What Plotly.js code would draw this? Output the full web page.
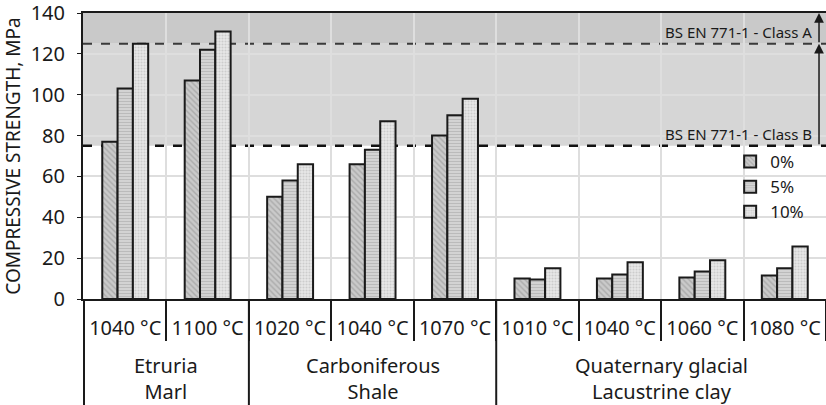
<!DOCTYPE html>
<html>
<head>
<meta charset="utf-8">
<script src="https://cdn.plot.ly/plotly-3.0.1.min.js"></script>
<style>html,body{margin:0;padding:0;background:#fff;}#chart{width:826px;height:405px;}</style>
</head>
<body>
<div id="chart"></div>
<script>
// Data
const materials = ["Etruria<br>Marl","Carboniferous<br>Shale","Quaternary glacial<br>Lacustrine clay"];
const materialOfBar = [0,0,1,1,1,2,2,2,2];
const temperatures = ["1040 °C","1100 °C","1020 °C","1040 °C","1070 °C","1010 °C","1040 °C","1060 °C","1080 °C"];
const seriesNames = ["0%","5%","10%"];
const strength0 = [77,107,50,66,80,10,10,10.5,11.5];
const strength5 = [103,122,58,73,90,9.5,12,13.5,15];
const strength10 = [125,131,66,87,98,15,18,19,25.7];
const classA = 125;
const classB = 75;
const yMax = 140;

// unique category keys (material index + temperature); tick text shows the temperature
const cats = temperatures.map((t,i)=> materialOfBar[i] + "|" + t);

const F = "'Noto Sans', sans-serif";
const styles = [
  {bg:"#cacaca", fg:"#8a8a8a", shape:"\\", size:4, sol:0.35},
  {bg:"#dcdcdc", fg:"#9a9a9a", shape:"-", size:3, sol:0.5},
  {bg:"#e8e8e8", fg:"#b0b0b0", shape:".", size:3, sol:0.4}
];
const vals = [strength0, strength5, strength10];
const traces = vals.map((v,i)=>({
  type:"bar",
  name: seriesNames[i],
  x: cats,
  y: v,
  marker:{
    color: styles[i].bg,
    line:{color:"#1a1a1a", width:2},
    pattern:{shape:styles[i].shape, fgcolor:styles[i].fg, bgcolor:styles[i].bg, size:styles[i].size, solidity:styles[i].sol, fillmode:"overlay"}
  },
  hoverinfo:"none"
}));

// group label positions (mean category index) and group boundaries
const groupCenters = materials.map((m,g)=>{
  const idx = materialOfBar.map((mm,i)=>mm===g?i:null).filter(v=>v!==null);
  return idx.reduce((a,b)=>a+b,0)/idx.length;
});
const groupStarts = materials.map((m,g)=> materialOfBar.indexOf(g) - 0.5);

const shapes = [
  {type:"rect", xref:"paper", yref:"y", x0:0, x1:1, y0:classA, y1:yMax, fillcolor:"#c9c9c9", line:{width:0}, layer:"below"},
  {type:"rect", xref:"paper", yref:"y", x0:0, x1:1, y0:classB, y1:classA, fillcolor:"#d6d6d6", line:{width:0}, layer:"below"},
  {type:"line", xref:"paper", yref:"y", x0:0, x1:1, y0:classA, y1:classA, line:{color:"#3a3a3a", width:2, dash:"dash"}, layer:"between"},
  {type:"line", xref:"paper", yref:"y", x0:0, x1:1, y0:classB, y1:classB, line:{color:"#111", width:2.5, dash:"dash"}, layer:"between"}
];
groupStarts.forEach(xs=>{
  shapes.push({type:"line", xref:"x", yref:"paper", x0:xs, x1:xs, y0:0, y1:-0.375, line:{color:"#1a1a1a", width:2}, layer:"above"});
});

const annotations = [
  {xref:"paper", yref:"y", x:0.984, y:classA, xanchor:"right", yanchor:"bottom", text:"BS EN 771-1 - Class A", showarrow:false, font:{size:15, family:F, color:"#1a1a1a"}},
  {xref:"paper", yref:"y", x:0.984, y:classB, xanchor:"right", yanchor:"bottom", text:"BS EN 771-1 - Class B", showarrow:false, font:{size:15, family:F, color:"#1a1a1a"}},
  {xref:"paper", yref:"y", x:0.9906, y:yMax, axref:"pixel", ayref:"y", ax:0, ay:classA, showarrow:true, arrowhead:2, arrowsize:1.3, arrowwidth:1.5, arrowcolor:"#1a1a1a", text:""},
  {xref:"paper", yref:"y", x:0.9906, y:classA, axref:"pixel", ayref:"y", ax:0, ay:classB, showarrow:true, arrowhead:2, arrowsize:1.3, arrowwidth:1.5, arrowcolor:"#1a1a1a", text:""}
];
materials.forEach((m,g)=>{
  annotations.push({xref:"x", yref:"paper", x:groupCenters[g], y:-0.278, xanchor:"center", yanchor:"middle", text:m, showarrow:false, align:"center", font:{size:20, family:F, color:"#1a1a1a"}});
});

const layout = {
  width:826, height:405,
  margin:{l:83, r:0, t:13, b:106},
  paper_bgcolor:"#ffffff", plot_bgcolor:"#ffffff",
  font:{family:F, color:"#1a1a1a", size:20},
  barmode:"group", bargap:0.443, bargroupgap:0,
  showlegend:true,
  legend:{x:0.871, y:0.542, xanchor:"left", yanchor:"top", bgcolor:"rgba(0,0,0,0)", font:{size:17, family:F}, tracegroupgap:0},
  xaxis:{
    type:"category",
    tickvals: cats, ticktext: temperatures,
    showline:true, linecolor:"#1a1a1a", linewidth:2, mirror:true,
    showgrid:true, gridcolor:"#dedede", gridwidth:2,
    tickson:"boundaries",
    ticks:"outside", ticklen:40, tickcolor:"#1a1a1a", tickwidth:2,
    tickangle:0,
    ticklabelstandoff:10,
    tickfont:{size:20, family:F}
  },
  yaxis:{
    range:[0,yMax], dtick:20, tick0:0,
    showline:true, linecolor:"#1a1a1a", linewidth:2,
    showgrid:true, gridcolor:"#dedede", gridwidth:2,
    ticks:"outside", ticklen:4, tickcolor:"#1a1a1a",
    ticklabelstandoff:8,
    ticklabeloverflow:"allow",
    tickfont:{size:20, family:F},
    zeroline:false,
    title:{text:"COMPRESSIVE STRENGTH, MPa", font:{size:19, family:F}, standoff:10}
  },
  shapes: shapes,
  annotations: annotations
};
Plotly.newPlot("chart", traces, layout, {displayModeBar:false, staticPlot:true});
</script>
</body>
</html>
